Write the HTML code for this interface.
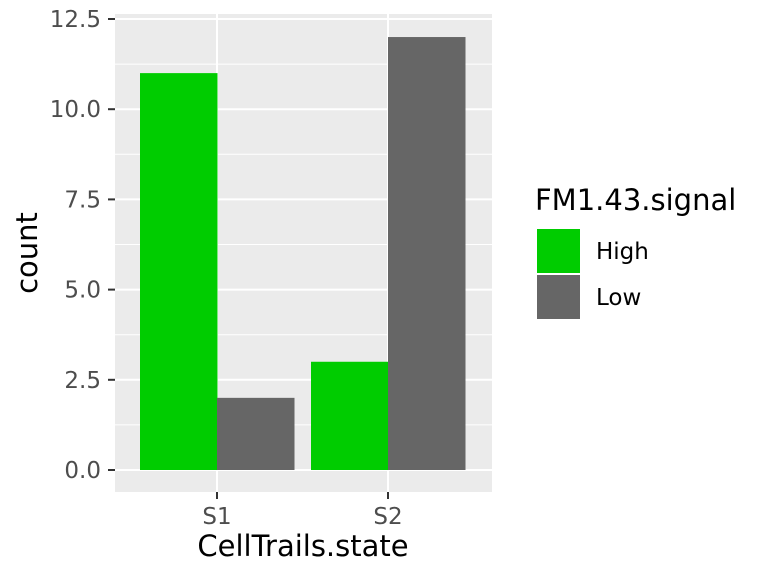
<!DOCTYPE html>
<html><head><meta charset="utf-8"><style>
body{margin:0;background:#fff;}
svg text{font-family:"DejaVu Sans",sans-serif;}
</style></head><body>
<svg id="chart" width="768" height="576" xmlns="http://www.w3.org/2000/svg">
<rect x="115" y="14" width="377" height="478" fill="#ebebeb"/>
<g id="grid"></g>
<g id="bars"></g>
<g id="axes"></g>
<text x="0" y="0" font-size="29" text-anchor="middle" transform="translate(37 253) rotate(-90)" fill="#000">count</text>
<text x="303" y="556" font-size="29" text-anchor="middle" fill="#000">CellTrails.state</text>
<g>
<text x="535" y="210" font-size="29" fill="#000">FM1.43.signal</text>
<rect x="537" y="229" width="43" height="44" fill="#00cc00"/>
<text x="596" y="259" font-size="23" fill="#000">High</text>
<rect x="537" y="275" width="43" height="44" fill="#666666"/>
<text x="596" y="305" font-size="23" fill="#000">Low</text>
</g>
</svg>
<script>
const categories=["S1","S2"];
const seriesNames=["High","Low"];
const highValues=[11,3];
const lowValues=[2,12];
const yTicks=[0,2.5,5,7.5,10,12.5];
const yTickLabels=["0.0","2.5","5.0","7.5","10.0","12.5"];
const colors=["#00cc00","#666666"];
const NS="http://www.w3.org/2000/svg";
const y=v=>470-v*36.08;
const xc=i=>217+i*171;
function mk(tag,attrs,parent,text){const e=document.createElementNS(NS,tag);for(const k in attrs)e.setAttribute(k,attrs[k]);if(text!==undefined)e.textContent=text;parent.appendChild(e);return e;}
const grid=document.getElementById('grid'),bars=document.getElementById('bars'),axes=document.getElementById('axes');
for(let i=0;i<yTicks.length-1;i++){const m=(yTicks[i]+yTicks[i+1])/2;
const g=mk('line',{x1:115,x2:492,y1:y(m),y2:y(m),stroke:'#fff','stroke-width':1},grid);

}
yTicks.forEach((t,i)=>{
const g=mk('line',{x1:115,x2:492,y1:y(t),y2:y(t),stroke:'#fff','stroke-width':2},grid);


const tk=mk('line',{x1:108,x2:115,y1:y(t),y2:y(t),stroke:'#333','stroke-width':2},axes);


const tl=mk('text',{x:101,y:y(t)+8,'font-size':23,'text-anchor':'end',fill:'#4d4d4d'},axes,yTickLabels[i]);


});
categories.forEach((c,i)=>{
const g=mk('line',{x1:xc(i),x2:xc(i),y1:14,y2:492,stroke:'#fff','stroke-width':2},grid);


const tk=mk('line',{x1:xc(i),x2:xc(i),y1:492,y2:499,stroke:'#333','stroke-width':2},axes);


const tl=mk('text',{x:xc(i),y:524,'font-size':23,'text-anchor':'middle',fill:'#4d4d4d'},axes,c);


[highValues,lowValues].forEach((vals,s)=>{
const x0=s===0?xc(i)-77:xc(i);
const b=mk('rect',{x:x0,y:y(vals[i]),width:77.5,height:y(0)-y(vals[i]),fill:colors[s]},bars);


});
});
</script>
</body></html>
